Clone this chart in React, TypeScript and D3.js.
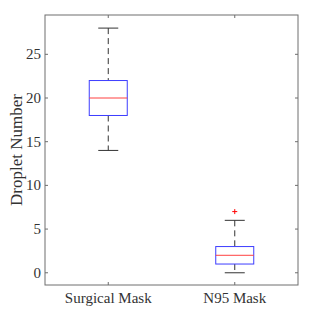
import * as d3 from "d3";

const categories = ["Surgical Mask", "N95 Mask"];
const lowerWhisker = [14, 0];
const q1 = [18, 1];
const median = [20, 2];
const q3 = [22, 3];
const upperWhisker = [28, 6];
const outliers = [[], [7]];
const yTicks = [0, 5, 10, 15, 20, 25];

const WIDTH = 319;
const HEIGHT = 323;
const MARGIN = { top: 15, right: 21, bottom: 38, left: 45 };
const AXIS = "#6e6e6e";
const TEXT = "#333333";
const FONT = "Liberation Serif";

const App = () => {
  const boundsWidth = WIDTH - MARGIN.left - MARGIN.right;
  const boundsHeight = HEIGHT - MARGIN.top - MARGIN.bottom;

  // categories sit at 1 and 2, like a MATLAB boxplot
  const xScale = d3.scaleLinear().domain([0.5, 2.5]).range([0, boundsWidth]);
  const yScale = d3.scaleLinear().domain([-1.4, 29.5]).range([boundsHeight, 0]);

  const boxWidth = 38;
  const capWidth = 20;

  return (
    <svg
      width={WIDTH}
      height={HEIGHT}
      style={{ position: "absolute", left: 0, top: 0 }}
    >
      <rect width={WIDTH} height={HEIGHT} fill="white" />
      <g transform={`translate(${MARGIN.left},${MARGIN.top})`}>
        {/* boxes */}
        {categories.map((c, i) => {
          const cx = xScale(i + 1);
          return (
            <g key={c}>
              <line
                x1={cx}
                x2={cx}
                y1={yScale(upperWhisker[i])}
                y2={yScale(q3[i])}
                stroke="#333"
                strokeDasharray="6,4"
              />
              <line
                x1={cx}
                x2={cx}
                y1={yScale(q1[i])}
                y2={yScale(lowerWhisker[i])}
                stroke="#333"
                strokeDasharray="6,4"
              />
              <line
                x1={cx - capWidth / 2}
                x2={cx + capWidth / 2}
                y1={yScale(upperWhisker[i])}
                y2={yScale(upperWhisker[i])}
                stroke="#333"
              />
              <line
                x1={cx - capWidth / 2}
                x2={cx + capWidth / 2}
                y1={yScale(lowerWhisker[i])}
                y2={yScale(lowerWhisker[i])}
                stroke="#333"
              />
              <rect
                x={cx - boxWidth / 2}
                y={yScale(q3[i])}
                width={boxWidth}
                height={yScale(q1[i]) - yScale(q3[i])}
                fill="none"
                stroke="#3d3dff"
              />
              <line
                x1={cx - boxWidth / 2}
                x2={cx + boxWidth / 2}
                y1={yScale(median[i])}
                y2={yScale(median[i])}
                stroke="#ff4040"
              />
              {outliers[i].map((o, j) => (
                <path
                  key={j}
                  d={`M${cx - 2.5},${yScale(o)}h5M${cx},${yScale(o) - 2.5}v5`}
                  stroke="#ff0000"
                />
              ))}
            </g>
          );
        })}
        {/* frame */}
        <rect
          width={boundsWidth}
          height={boundsHeight}
          fill="none"
          stroke={AXIS}
        />
        {/* Y ticks */}
        {yTicks.map((t) => (
          <g key={t} transform={`translate(0,${yScale(t)})`}>
            <line x2={3} stroke={AXIS} />
            <line x1={boundsWidth} x2={boundsWidth - 3} stroke={AXIS} />
            <text
              x={-4}
              dy="0.33em"
              textAnchor="end"
              style={{ fontFamily: FONT, fontSize: 15 }}
              fill={TEXT}
            >
              {t}
            </text>
          </g>
        ))}
        {/* X ticks */}
        {categories.map((c, i) => (
          <g key={c} transform={`translate(${xScale(i + 1)},0)`}>
            <line y1={boundsHeight} y2={boundsHeight - 3} stroke={AXIS} />
            <line y1={0} y2={3} stroke={AXIS} />
            <text
              y={boundsHeight + 18}
              textAnchor="middle"
              style={{ fontFamily: FONT, fontSize: 15 }}
              fill={TEXT}
            >
              {c}
            </text>
          </g>
        ))}
        <text
          transform={`translate(-23,${boundsHeight / 2}) rotate(-90)`}
          textAnchor="middle"
          style={{ fontFamily: FONT, fontSize: 17 }}
          fill={TEXT}
        >
          Droplet Number
        </text>
      </g>
    </svg>
  );
};

export default App;
